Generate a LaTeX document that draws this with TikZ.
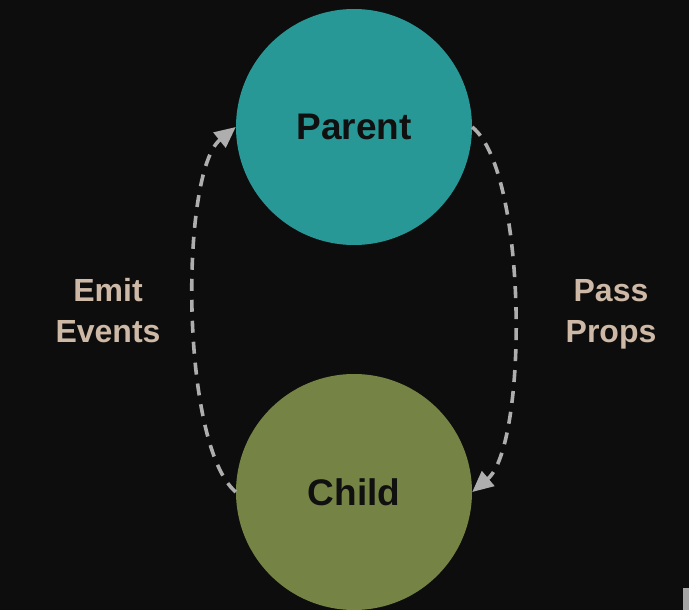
\documentclass[tikz,border=0pt]{standalone}
\usepackage{fontspec}
\setmainfont{Liberation Sans}
\usetikzlibrary{arrows.meta}
\definecolor{bg}{HTML}{0D0D0D}
\definecolor{parentc}{HTML}{289896}
\definecolor{childc}{HTML}{758444}
\definecolor{labelc}{HTML}{CDB9A6}
\definecolor{linec}{HTML}{AEAEAE}
\definecolor{ink}{HTML}{101010}
\begin{document}
\begin{tikzpicture}[x=1pt,y=-1pt,
  bubble/.style={circle,minimum size=236pt,inner sep=0pt,font=\fontsize{37}{40}\selectfont\bfseries,text=ink},
  lbl/.style={align=center,font=\fontsize{32}{41}\selectfont\bfseries,text=labelc},
  flow/.style={draw=linec,line width=3.6pt,dash pattern=on 12pt off 9pt,-{Triangle[length=21pt,width=19pt]}}]
\fill[bg] (0,0) rectangle (689,610);
\useasboundingbox (0,0) rectangle (689,610);
\begin{scope}
\clip (0,0) rectangle (689,610);
\node[bubble,fill=parentc] (parent) at (354,127) {Parent};
\node[bubble,fill=childc] (child) at (354,492) {Child};
\end{scope}
\node[lbl] (emit) at (108,311) {Emit\\Events};
\node[lbl] (pass) at (611,314) {Pass\\Props};
\draw[flow] (parent.east) .. controls (528,172) and (528,445) .. (child.east);
\draw[flow] (child.west) .. controls (180,445) and (180,172) .. (parent.west);
\fill[gray!70] (683,588) rectangle (689,610);
\end{tikzpicture}
\end{document}
